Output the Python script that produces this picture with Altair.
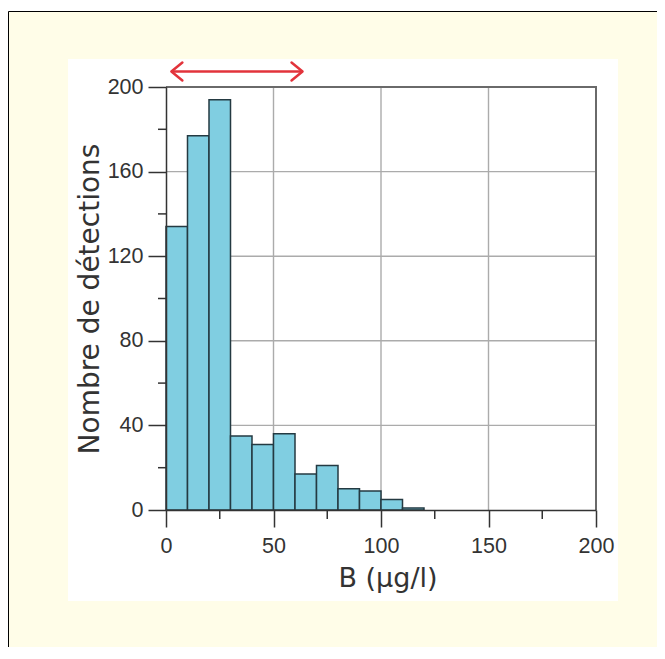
import altair as alt
import pandas as pd

# ---- data ----
bin_start = [0, 10, 20, 30, 40, 50, 60, 70, 80, 90, 100, 110]
bin_end = [10, 20, 30, 40, 50, 60, 70, 80, 90, 100, 110, 120]
counts = [134, 177, 194, 35, 31, 36, 17, 21, 10, 9, 5, 1]

x_major = [0, 50, 100, 150, 200]
x_minor = [25, 75, 125, 175]
y_major = [0, 40, 80, 120, 160, 200]
y_minor = [20, 60, 100, 140, 180]
x_grid = [50, 100, 150]
y_grid = [40, 80, 120, 160]
x_frame = [200]
y_frame = [200]
arrow_range = [2.5, 63.5]

x_title = "B (µg/l)"
y_title = "Nombre de détections"

# ---- styling ----
BEIGE = "#FFFDE8"
BAR_FILL = "#80CEE1"
BAR_STROKE = "#243A42"
AXIS_COL = "#333333"
GRID_COL = "#ababab"
FRAME_COL = "#6a6a6a"
RED = "#E2333B"
W, H = 430, 423

xs = alt.Scale(domain=[0, 200], nice=False, zero=False)
ys = alt.Scale(domain=[0, 200], nice=False, zero=False)

# beige surround (strips around the white panel) with its black outer border
strips = pd.DataFrame({
    "x1": [-157.5, -157.5, -157.5, 452],
    "x2": [900, 900, -98, 900],
    "y1": [-75.5, 514, -28, -28],
    "y2": [-28, 900, 514, 514],
})
bg_strips = alt.layer(*[
    alt.Chart(pd.DataFrame({"a": [0]})).mark_rect(fill=BEIGE).encode(
        x=alt.value(r.x1), x2=alt.value(r.x2), y=alt.value(r.y1), y2=alt.value(r.y2)
    )
    for r in strips.itertuples()
])
border_top = alt.Chart(pd.DataFrame({"a": [0]})).mark_rule(color="black", strokeWidth=1).encode(
    x=alt.value(-157.5), x2=alt.value(900), y=alt.value(-75.5)
)
border_left = alt.Chart(pd.DataFrame({"a": [0]})).mark_rule(color="black", strokeWidth=1).encode(
    x=alt.value(-157.5), y=alt.value(-75.5), y2=alt.value(900)
)

vgrid = alt.Chart(pd.DataFrame({"v": x_grid})).mark_rule(color=GRID_COL, strokeWidth=1.4).encode(
    x=alt.X("v:Q", scale=xs), y=alt.value(0), y2=alt.value(H)
)
hgrid = alt.Chart(pd.DataFrame({"v": y_grid})).mark_rule(color=GRID_COL, strokeWidth=1.4).encode(
    y=alt.Y("v:Q", scale=ys), x=alt.value(0), x2=alt.value(W)
)

xaxis = alt.Axis(
    values=x_major, format="d", grid=False, title=x_title,
    tickSize=17, tickWidth=1.5, tickColor=AXIS_COL,
    domainColor=AXIS_COL, domainWidth=1.5,
    labelFont="Liberation Sans", labelFontSize=21.5, labelColor=AXIS_COL,
    labelPadding=8, labelFlush=False, labelOverlap=False,
    titleFont="DejaVu Sans", titleFontSize=27, titleFontWeight="normal",
    titleColor=AXIS_COL, titlePadding=9, titleX=221.5, zindex=1,
)
yaxis = alt.Axis(
    values=y_major, format="d", grid=False, title=y_title,
    tickSize=18, tickWidth=1.5, tickColor=AXIS_COL,
    domainColor=AXIS_COL, domainWidth=1.5,
    labelFont="Liberation Sans", labelFontSize=21.5, labelColor=AXIS_COL,
    labelPadding=5, labelFlush=False, labelOverlap=False,
    titleFont="DejaVu Sans", titleFontSize=28, titleFontWeight="normal",
    titleColor=AXIS_COL, titlePadding=3, zindex=1,
)

bars = alt.Chart(pd.DataFrame({"start": bin_start, "end": bin_end, "count": counts})).mark_rect(
    fill=BAR_FILL, stroke=BAR_STROKE, strokeWidth=1.5
).encode(
    x=alt.X("start:Q", scale=xs, axis=xaxis),
    x2="end:Q",
    y=alt.Y("count:Q", scale=ys, axis=yaxis),
    y2=alt.datum(0),
)

frame_top = alt.Chart(pd.DataFrame({"v": y_frame})).mark_rule(color=FRAME_COL, strokeWidth=2).encode(
    y=alt.Y("v:Q", scale=ys), x=alt.value(0), x2=alt.value(W + 1)
)
frame_right = alt.Chart(pd.DataFrame({"v": x_frame})).mark_rule(color=FRAME_COL, strokeWidth=2).encode(
    x=alt.X("v:Q", scale=xs), y=alt.value(-1), y2=alt.value(H)
)

xminor = alt.Chart(pd.DataFrame({"v": x_minor})).mark_rule(color=AXIS_COL, strokeWidth=1.5).encode(
    x=alt.X("v:Q", scale=xs), y=alt.value(H), y2=alt.value(H + 9)
)
yminor = alt.Chart(pd.DataFrame({"v": y_minor})).mark_rule(color=AXIS_COL, strokeWidth=1.5).encode(
    y=alt.Y("v:Q", scale=ys), x=alt.value(-8), x2=alt.value(0)
)

arrow_df = pd.DataFrame({"s": [arrow_range[0]], "e": [arrow_range[1]]})
arrow_line = alt.Chart(arrow_df).mark_rule(color=RED, strokeWidth=2.5).encode(
    x=alt.X("s:Q", scale=xs), x2="e:Q", y=alt.value(-15.5)
)
head_l = alt.Chart(pd.DataFrame({"v": [arrow_range[0]]})).mark_point(
    shape="M1,-0.82L0,0L1,0.82", size=484, filled=False, stroke=RED, strokeWidth=2.5,
    opacity=1, strokeCap="round", strokeJoin="round"
).encode(x=alt.X("v:Q", scale=xs), y=alt.value(-15.5))
head_r = alt.Chart(pd.DataFrame({"v": [arrow_range[1]]})).mark_point(
    shape="M-1,-0.82L0,0L-1,0.82", size=484, filled=False, stroke=RED, strokeWidth=2.5,
    opacity=1, strokeCap="round", strokeJoin="round"
).encode(x=alt.X("v:Q", scale=xs), y=alt.value(-15.5))

chart = alt.layer(
    bg_strips, border_top, border_left, vgrid, hgrid, bars, frame_top, frame_right,
    xminor, yminor, arrow_line, head_l, head_r
).properties(
    width=W, height=H,
    autosize=alt.AutoSizeParams(type="none"),
    padding={"left": 158, "top": 79, "right": 61, "bottom": 137},
    background="white",
).configure_view(stroke="transparent")

chart.save("out.html", embed_options={"renderer": "svg", "actions": False})
